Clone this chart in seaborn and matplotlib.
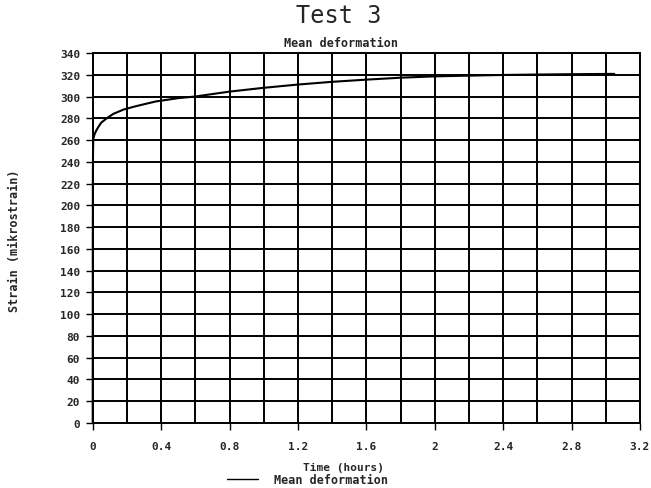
import numpy as np
import pandas as pd
import matplotlib
matplotlib.use("Agg")
import matplotlib.pyplot as plt
import seaborn as sns
from matplotlib.lines import Line2D

time_h = [0, 0.0005, 0.001, 0.002, 0.0035, 0.01, 0.02, 0.033, 0.05, 0.082, 0.12,
          0.18, 0.25, 0.37, 0.5, 0.6, 0.8, 1.0, 1.2, 1.4, 1.6, 1.8, 2.0, 2.2,
          2.4, 2.6, 2.8, 3.05]
strain = [0, 150, 230, 250, 261, 265, 268.5, 272, 276, 280, 284, 288, 291,
          295.5, 298.5, 300, 304.5, 308, 311, 313.5, 315.5, 317.3, 318.5,
          319.2, 319.8, 320.2, 320.5, 320.8]
series_name = "Mean deformation"
x_ticks = [0, 0.4, 0.8, 1.2, 1.6, 2, 2.4, 2.8, 3.2]
x_tick_labels = ["0", "0.4", "0.8", "1.2", "1.6", "2", "2.4", "2.8", "3.2"]
y_ticks = list(range(0, 341, 20))

df = pd.DataFrame({"Time (hours)": time_h, "Strain": strain, "series": series_name})

sns.set_theme(style="white")
plt.rcParams['font.family'] = ['DejaVu Sans Mono', 'DejaVu Sans']

fig = plt.figure(figsize=(6.51, 4.89), dpi=100)
ax = fig.add_axes([0.1424, 0.133, 0.983 - 0.1424, 0.8896 - 0.133])

sns.lineplot(data=df, x="Time (hours)", y="Strain", hue="series",
             palette=["black"], linewidth=1.5, ax=ax, legend=False, sort=False)
for ln in ax.lines:
    ln.set_zorder(5)
    ln.set_clip_on(False)

ax.set_xlim(0, 3.2)
ax.set_ylim(0, 340)
ax.set_xticks(x_ticks)
ax.set_xticklabels(x_tick_labels)
ax.set_xticks(np.arange(0.2, 3.2, 0.4), minor=True)
ax.set_yticks(y_ticks)
ax.grid(True, which="both", color="black", linewidth=1.4)
ax.tick_params(axis="both", which="both", direction="out", length=5, width=1.0,
               color="black", labelsize=8, pad=4)
ax.tick_params(axis="x", pad=8)
ax.tick_params(left=True, bottom=True)
for lab in ax.get_xticklabels() + ax.get_yticklabels():
    lab.set_fontweight("bold")
for sp in ax.spines.values():
    sp.set_color("black")
    sp.set_linewidth(1.4)

ax.set_xlabel("")
ax.set_ylabel("")
fig.text(0.023, 0.507, "Strain (mikrostrain)", rotation=90, ha="center", va="center",
         fontsize=8.5, fontweight="bold")
fig.text(0.527, 0.043, "Time (hours)", ha="center", va="center",
         fontsize=8, fontweight="bold")
fig.text(0.521, 0.968, "Test 3", ha="center", va="center", fontsize=17)
fig.text(0.524, 0.912, "Mean deformation", ha="center", va="center",
         fontsize=8.5, fontweight="bold")

handle = Line2D([0], [0], color="black", linewidth=1.0)
fig.legend([handle], [series_name], loc="center left", bbox_to_anchor=(0.349, 0.018),
           frameon=False, prop={"size": 8.5, "weight": "bold"}, handlelength=2.6,
           borderpad=0, borderaxespad=0, handletextpad=1.4)

fig.savefig("out.png", dpi=100)
